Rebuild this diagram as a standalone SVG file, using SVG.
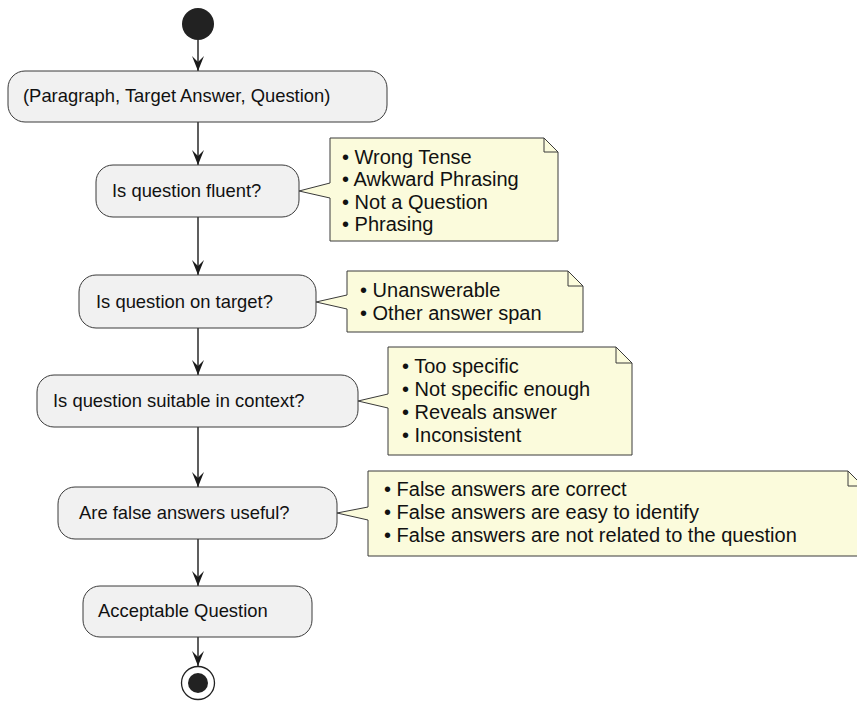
<svg xmlns="http://www.w3.org/2000/svg" width="857" height="701" viewBox="0 0 857 701">
<style>
  .box { fill: #F1F1F1; stroke: #3a3a3a; stroke-width: 1; }
  .note { fill: #FBFBDC; stroke: #3a3a3a; stroke-width: 1; stroke-linejoin: miter; }
  .fold { fill: none; stroke: #3a3a3a; stroke-width: 1; }
  .bt { font-family: "Liberation Sans", Arial, sans-serif; font-size: 18.4px; fill: #111; }
  .nt { font-family: "Liberation Sans", Arial, sans-serif; font-size: 20px; fill: #111; }
  .edge { stroke: #1a1a1a; stroke-width: 1.4; fill: none; marker-end: url(#arrow); }
  .dot { fill: #222; }
</style>
<defs>
  <marker id="arrow" markerUnits="userSpaceOnUse" markerWidth="16" markerHeight="14" viewBox="-16 -7 16 14" refX="0" refY="0" orient="auto">
    <path d="M0,0 L-15,-6 L-9,0 L-15,6 Z" fill="#1a1a1a"/>
  </marker>
</defs>
<rect width="857" height="701" fill="#ffffff"/>

<g id="connectors">
  <line class="edge" x1="198" y1="40" x2="198" y2="71"/>
  <line class="edge" x1="198" y1="122" x2="198" y2="165"/>
  <line class="edge" x1="198" y1="217" x2="198" y2="275"/>
  <line class="edge" x1="198" y1="328" x2="198" y2="375"/>
  <line class="edge" x1="198" y1="427" x2="198" y2="487"/>
  <line class="edge" x1="198" y1="539" x2="198" y2="586"/>
  <line class="edge" x1="198" y1="637" x2="198" y2="666"/>
</g>

<g id="start">
  <circle class="dot" cx="198" cy="24" r="16"/>
</g>

<g id="input">
  <rect class="box" x="8" y="71" width="379" height="51" rx="17" ry="17"/>
  <text class="bt" x="23" y="102">(Paragraph, Target Answer, Question)</text>
</g>

<g id="fluent">
  <rect class="box" x="96" y="165" width="203" height="52" rx="17" ry="17"/>
  <text class="bt" x="112" y="197">Is question fluent?</text>
</g>

<g id="note-fluent">
  <path class="note" d="M330,138 L544,138 L558,152 L558,241 L330,241 L330,198 L299,191 L330,183 Z"/>
  <path class="fold" d="M544,138 L544,152 L558,152"/>
  <text class="nt" x="342" y="163.5">• Wrong Tense</text>
  <text class="nt" x="342" y="186">• Awkward Phrasing</text>
  <text class="nt" x="342" y="208.5">• Not a Question</text>
  <text class="nt" x="342" y="231">• Phrasing</text>
</g>

<g id="target">
  <rect class="box" x="79" y="275" width="237" height="53" rx="17" ry="17"/>
  <text class="bt" x="96" y="308">Is question on target?</text>
</g>

<g id="note-target">
  <path class="note" d="M347,271 L568,271 L583,286 L583,332 L347,332 L347,309 L316,302 L347,295 Z"/>
  <path class="fold" d="M568,271 L568,286 L583,286"/>
  <text class="nt" x="360" y="297">• Unanswerable</text>
  <text class="nt" x="360" y="320">• Other answer span</text>
</g>

<g id="context">
  <rect class="box" x="37" y="375" width="321" height="52" rx="17" ry="17"/>
  <text class="bt" x="53" y="407">Is question suitable in context?</text>
</g>

<g id="note-context">
  <path class="note" d="M388,347 L616,347 L632,363 L632,455 L388,455 L388,408 L358,401 L388,394 Z"/>
  <path class="fold" d="M616,347 L616,363 L632,363"/>
  <text class="nt" x="402" y="373">• Too specific</text>
  <text class="nt" x="402" y="396">• Not specific enough</text>
  <text class="nt" x="402" y="419">• Reveals answer</text>
  <text class="nt" x="402" y="442">• Inconsistent</text>
</g>

<g id="false-answers">
  <rect class="box" x="58" y="487" width="279" height="52" rx="17" ry="17"/>
  <text class="bt" x="79" y="519">Are false answers useful?</text>
</g>

<g id="note-false-answers">
  <path class="note" d="M368,471 L848,471 L863,486 L863,556 L368,556 L368,520 L337,513 L368,507 Z"/>
  <path class="fold" d="M848,471 L848,486 L863,486"/>
  <text class="nt" x="384" y="496">• False answers are correct</text>
  <text class="nt" x="384" y="519">• False answers are easy to identify</text>
  <text class="nt" x="384" y="542">• False answers are not related to the question</text>
</g>

<g id="acceptable">
  <rect class="box" x="83" y="586" width="229" height="51" rx="17" ry="17"/>
  <text class="bt" x="98" y="617">Acceptable Question</text>
</g>

<g id="end">
  <circle cx="198" cy="683" r="16.5" fill="#ffffff" stroke="#222" stroke-width="1.3"/>
  <circle class="dot" cx="198" cy="683" r="10"/>
</g>
</svg>
